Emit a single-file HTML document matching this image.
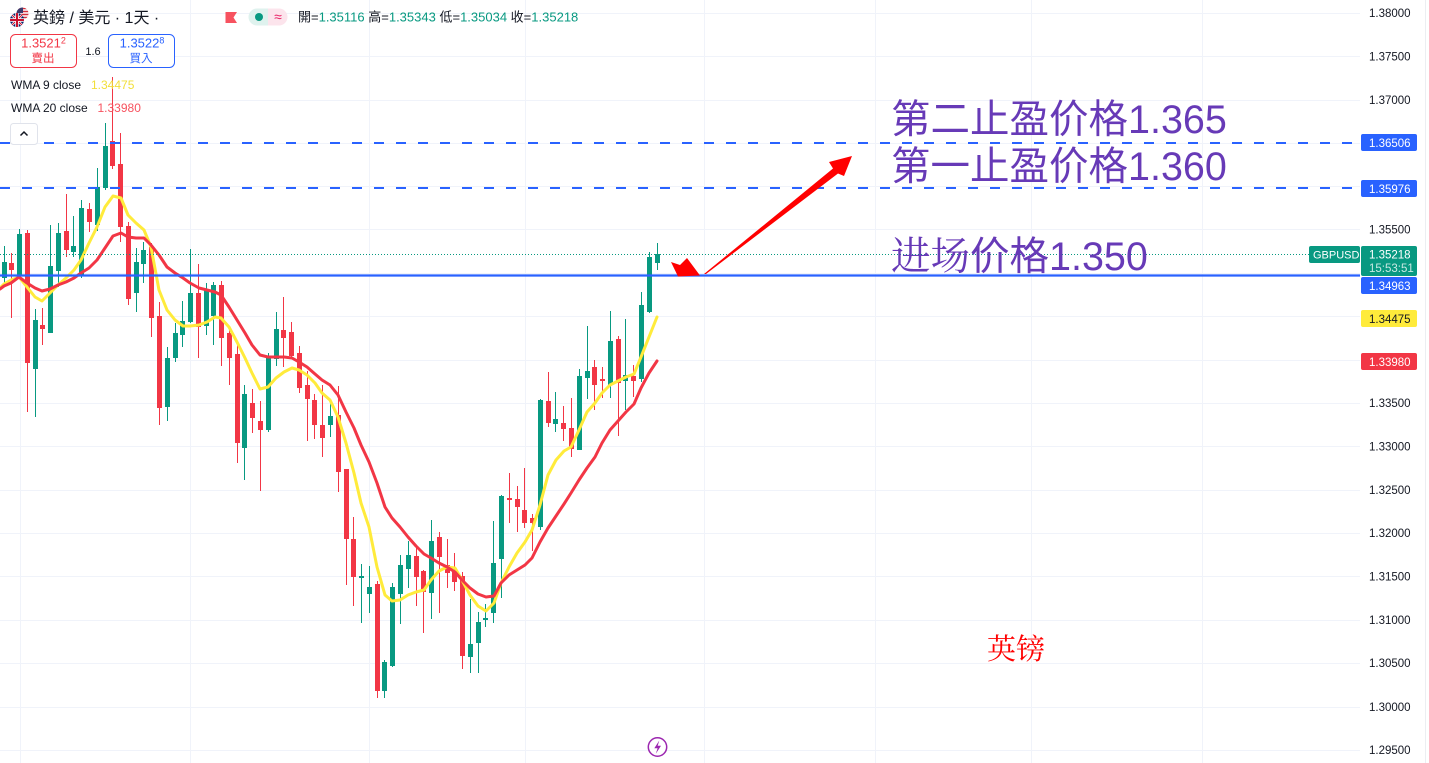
<!DOCTYPE html>
<html><head><meta charset="utf-8"><style>
html,body{margin:0;padding:0;background:#fff;width:1429px;height:763px;overflow:hidden}
svg{display:block;font-family:"Liberation Sans","Noto Sans CJK SC",sans-serif}
</style></head><body>
<svg width="1429" height="763" viewBox="0 0 1429 763" xmlns="http://www.w3.org/2000/svg">
<rect width="1429" height="763" fill="#fff"/>
<!-- grid -->
<g stroke="#f0f3fa" stroke-width="1">
<path d="M0 13.5H1360M0 56.5H1360M0 100.5H1360M0 143.5H1360M0 186.5H1360M0 229.5H1360M0 273.5H1360M0 316.5H1360M0 360.5H1360M0 403.5H1360M0 446.5H1360M0 490.5H1360M0 533.5H1360M0 576.5H1360M0 620.5H1360M0 663.5H1360M0 707.5H1360M0 750.5H1360"/>
<path d="M20.5 0V763M190.5 0V763M369.5 0V763M525.5 0V763M704.5 0V763M875.5 0V763M1031.5 0V763M1202.5 0V763"/>
</g>
<line x1="1425.5" y1="0" x2="1425.5" y2="763" stroke="#eceef2" stroke-width="1"/>

<!-- candles -->
<path fill="none" stroke="#089981" stroke-width="1" d="M4.5 246V285M19.5 229V278M35.5 309V417M50.5 225V333M58.5 223V287M73.5 216V257M81.5 200V278M97.5 168V231M105.5 123V190M136.5 248V312M143.5 242V283M167.5 347V421M175.5 323V362M182.5 301V347M190.5 249V323M206.5 283V335M213.5 282V345M244.5 385V480M268.5 353V432M276.5 312V366M330.5 400V437M361.5 564V623M369.5 566V613M384.5 660V698M392.5 583V667M400.5 555V624M408.5 541V588M431.5 520V619M470.5 599V673M478.5 612V673M485.5 604V627M493.5 521V623M501.5 495V598M540.5 399V530M555.5 392V432M579.5 369V450M587.5 326V399M610.5 311V398M625.5 319V410M641.5 292V382M649.5 252V313M657.5 243V270"/>
<path fill="#089981" d="M2 262h5V278h-5zM17 234h5V276h-5zM33 320h5V369h-5zM48 266h5V333h-5zM56 233h5V271h-5zM71 246h5V252h-5zM79 208h5V276h-5zM95 187h5V225h-5zM103 146h5V188h-5zM134 262h5V293h-5zM141 250h5V264h-5zM165 358h5V407h-5zM173 333h5V358h-5zM180 321h5V335h-5zM188 293h5V322h-5zM204 289h5V326h-5zM211 285h5V316h-5zM242 394h5V448h-5zM266 358h5V430h-5zM274 329h5V359h-5zM328 416h5V425h-5zM359 576h5V578h-5zM367 587h5V594h-5zM382 662h5V691h-5zM390 587h5V666h-5zM398 565h5V594h-5zM406 555h5V569h-5zM429 541h5V593h-5zM468 644h5V657h-5zM476 622h5V643h-5zM483 618h5V620h-5zM491 563h5V613h-5zM499 496h5V559h-5zM538 400h5V527h-5zM553 419h5V424h-5zM577 376h5V450h-5zM585 371h5V378h-5zM608 341h5V385h-5zM623 375h5V381h-5zM639 305h5V379h-5zM647 257h5V312h-5zM655 254h5V263h-5z"/>
<path fill="none" stroke="#f23645" stroke-width="1" d="M11.5 253V318M27.5 230V412M42.5 308V345M66.5 194V257M89.5 203V232M112.5 77V169M120.5 133V242M128.5 222V305M151.5 243V337M159.5 302V425M198.5 264V358M221.5 281V366M229.5 326V385M237.5 343V463M252.5 389V433M260.5 401V491M283.5 297V367M291.5 322V358M299.5 346V393M307.5 371V441M314.5 394V439M322.5 385V457M338.5 386V492M346.5 469V585M353.5 517V606M377.5 581V698M416.5 547V606M423.5 570V633M439.5 532V613M447.5 539V588M454.5 553V591M462.5 572V669M509.5 473V523M517.5 486V532M524.5 468V528M532.5 514V551M548.5 372V427M563.5 406V441M571.5 398V457M594.5 360V410M602.5 367V398M618.5 336V436M633.5 365V397"/>
<path fill="#f23645" d="M9 263h5V270h-5zM25 233h5V363h-5zM40 325h5V329h-5zM64 231h5V250h-5zM87 209h5V222h-5zM110 141h5V166h-5zM118 164h5V227h-5zM126 226h5V299h-5zM149 247h5V318h-5zM157 316h5V408h-5zM196 293h5V327h-5zM219 285h5V338h-5zM227 333h5V358h-5zM235 354h5V443h-5zM250 403h5V418h-5zM258 421h5V430h-5zM281 330h5V338h-5zM289 332h5V356h-5zM297 353h5V388h-5zM305 385h5V399h-5zM312 400h5V425h-5zM320 425h5V438h-5zM336 415h5V472h-5zM344 469h5V539h-5zM351 539h5V577h-5zM375 584h5V691h-5zM414 556h5V577h-5zM421 571h5V592h-5zM437 537h5V557h-5zM445 565h5V573h-5zM452 570h5V582h-5zM460 576h5V656h-5zM507 498h5V500h-5zM515 499h5V507h-5zM522 510h5V523h-5zM530 518h5V523h-5zM546 401h5V423h-5zM561 423h5V429h-5zM569 428h5V449h-5zM592 367h5V385h-5zM600 379h5V381h-5zM616 339h5V383h-5zM631 376h5V381h-5z"/>

<!-- WMA lines -->
<polyline fill="none" stroke="#ffeb3b" stroke-width="3" stroke-linejoin="round" stroke-linecap="round" points="0,288 4,284 11,280 19,277 27,287 35,297 42,301 50,293 58,285 66,278 74,270 81,260 89,243 97,227 105,207 113,196 121,198 128,215 136,223 144,230 151,247 159,290 167,310 175,320 183,326 190,326 199,325 207,322 215,317 221,318 229,327 237,342 245,358 252,373 260,389 268,387 276,378 284,372 292,368 299,370 307,375 315,383 322,393 330,400 338,417 346,443 354,473 361,503 369,527 377,567 385,595 392,601 400,600 408,595 416,592 424,590 431,580 439,571 447,567 455,568 462,580 470,595 478,606 486,611 494,603 501,583 509,567 517,553 525,542 532,530 540,505 548,475 556,460 564,451 571,447 579,430 587,412 595,403 602,393 610,385 618,381 626,377 634,374 641,357 649,337 657,317"/>
<polyline fill="none" stroke="#f23645" stroke-width="3" stroke-linejoin="round" stroke-linecap="round" points="0,289 4,286 11,283 19,277 27,283 35,288 42,291 50,289 58,285 66,282 74,278 81,273 89,268 97,260 105,248 113,236 121,233 128,237 136,238 144,238 151,245 159,255 167,267 175,273 183,278 190,283 199,288 207,290 215,292 221,295 229,307 237,320 245,333 252,345 260,355 268,357 276,357 284,357 292,358 299,362 307,367 315,374 322,380 330,385 338,395 346,412 354,428 361,445 369,462 377,483 385,507 392,518 400,527 408,537 416,546 424,554 431,558 439,563 447,567 455,572 462,580 470,588 478,594 486,597 494,596 501,583 509,575 517,570 525,565 532,558 540,542 548,528 556,516 564,504 571,493 579,480 587,468 595,457 602,443 610,430 618,421 626,412 634,404 641,388 649,373 657,361"/>

<!-- drawings -->
<line x1="0" y1="254.5" x2="1309" y2="254.5" stroke="#089981" stroke-width="1" stroke-dasharray="1 2"/>
<line x1="0" y1="143" x2="1360" y2="143" stroke="#2962ff" stroke-width="2" stroke-dasharray="10 12"/>
<line x1="0" y1="188" x2="1360" y2="188" stroke="#2962ff" stroke-width="2" stroke-dasharray="10 12"/>
<line x1="0" y1="275.5" x2="1360" y2="275.5" stroke="#2962ff" stroke-width="2.3"/>

<!-- arrows -->
<polygon fill="#ff0000" points="704,274 833,168.5 829,162 852,156 844,176 838,173.5 706,274"/>
<polygon fill="#ff0000" points="671,262 680,265 687,258 700,275.5 678,276.5"/>

<!-- annotations -->
<g fill="#673ab7" font-size="39.5" font-family="'Liberation Sans','Noto Sans CJK SC',sans-serif">
<text x="891" y="133">第二止盈价格1.365</text>
<text x="891" y="180">第一止盈价格1.360</text>
<text x="891" y="270"><tspan font-family="'Noto Serif CJK SC',serif">进场</tspan>价格1.350</text>
</g>
<text x="987" y="659" font-size="29" fill="#ff0000" font-family="'Noto Serif CJK SC','Noto Sans CJK SC',serif">英镑</text>

<!-- lightning icon -->
<circle cx="657.5" cy="747" r="9.2" fill="#fff" stroke="#9c27b0" stroke-width="1.5"/>
<path d="M659.3 740.5 L654.3 748.2 L657.6 748.2 L655.8 753.8 L661 745.8 L657.7 745.8 Z" fill="#9c27b0"/>

<!-- price axis labels -->
<g font-size="11.5" fill="#131722">
<text x="1369" y="17">1.38000</text>
<text x="1369" y="60.5">1.37500</text>
<text x="1369" y="104">1.37000</text>
<text x="1369" y="233.5">1.35500</text>
<text x="1369" y="407">1.33500</text>
<text x="1369" y="450.5">1.33000</text>
<text x="1369" y="494">1.32500</text>
<text x="1369" y="537">1.32000</text>
<text x="1369" y="580.5">1.31500</text>
<text x="1369" y="624">1.31000</text>
<text x="1369" y="667">1.30500</text>
<text x="1369" y="711">1.30000</text>
<text x="1369" y="754">1.29500</text>
</g>
<!-- axis tags -->
<rect x="1361" y="134" width="56" height="17" rx="2" fill="#2962ff"/>
<text x="1369" y="146.8" font-size="11.5" fill="#fff">1.36506</text>
<rect x="1361" y="180" width="56" height="17" rx="2" fill="#2962ff"/>
<text x="1369" y="192.8" font-size="11.5" fill="#fff">1.35976</text>
<rect x="1309" y="246" width="51" height="17" rx="2" fill="#089981"/>
<text x="1313" y="258.5" font-size="11" fill="#fff">GBPUSD</text>
<rect x="1361" y="246" width="56" height="30" rx="2" fill="#089981"/>
<text x="1369" y="258.5" font-size="11.5" fill="#fff">1.35218</text>
<text x="1369" y="272" font-size="11.5" fill="#fff" fill-opacity="0.78">15:53:51</text>
<rect x="1361" y="277" width="56" height="17" rx="2" fill="#2962ff"/>
<text x="1369" y="289.8" font-size="11.5" fill="#fff">1.34963</text>
<rect x="1361" y="310" width="56" height="17" rx="2" fill="#ffeb3b"/>
<text x="1369" y="322.8" font-size="11.5" fill="#131722">1.34475</text>
<rect x="1361" y="353" width="56" height="17" rx="2" fill="#f23645"/>
<text x="1369" y="365.8" font-size="11.5" fill="#fff">1.33980</text>

<!-- header -->
<defs><clipPath id="ukc"><circle cx="17" cy="20" r="7"/></clipPath><clipPath id="usc"><circle cx="22.5" cy="13.5" r="6"/></clipPath></defs>
<g clip-path="url(#usc)">
<rect x="15" y="6" width="15" height="15" fill="#fff"/>
<path d="M15 8.5H30M15 11.5H30M15 14.5H30M15 17.5H30" stroke="#d22f3d" stroke-width="1.4"/>
<rect x="15" y="6" width="8" height="7" fill="#3c3b6e"/>
</g>
<g clip-path="url(#ukc)">
<rect x="9" y="12" width="16" height="16" fill="#012169"/>
<path d="M9 12L25 28M25 12L9 28" stroke="#fff" stroke-width="2.5"/>
<path d="M9 12L25 28M25 12L9 28" stroke="#c8102e" stroke-width="1"/>
<path d="M17 12V28M9 20H25" stroke="#fff" stroke-width="3.5"/>
<path d="M17 12V28M9 20H25" stroke="#c8102e" stroke-width="2"/>
</g>
<text x="33" y="23" font-size="16" fill="#131722" font-family="'Liberation Sans','Noto Sans CJK TC',sans-serif">英鎊 / 美元 · 1天 ·</text>
<polygon points="225.5,12 237,12 233.5,17.5 237,23 225.5,23" fill="#f7525f"/>
<path d="M257 8.5 H268 V25.5 H257 A8.5 8.5 0 0 1 257 8.5Z" fill="#dff2ee"/>
<path d="M268 8.5 H279 A8.5 8.5 0 0 1 279 25.5 H268Z" fill="#fce4ec"/>
<circle cx="259" cy="17" r="4" fill="#089981"/>
<text x="278" y="21.5" font-size="14" fill="#e91e63" text-anchor="middle">≈</text>
<text x="298" y="21.5" font-size="13" font-family="'Liberation Sans','Noto Sans CJK TC',sans-serif"><tspan fill="#131722">開=</tspan><tspan fill="#089981">1.35116</tspan><tspan fill="#131722"> 高=</tspan><tspan fill="#089981">1.35343</tspan><tspan fill="#131722"> 低=</tspan><tspan fill="#089981">1.35034</tspan><tspan fill="#131722"> 收=</tspan><tspan fill="#089981">1.35218</tspan></text>

<rect x="10.5" y="34.5" width="66" height="33" rx="5" fill="#fff" stroke="#f23645" stroke-width="1"/>
<text x="43.5" y="47.5" font-size="13" fill="#f23645" text-anchor="middle">1.3521<tspan font-size="9" dy="-4">2</tspan></text>
<text x="43" y="62" font-size="11.5" fill="#f23645" text-anchor="middle" font-family="'Liberation Sans','Noto Sans CJK TC',sans-serif">賣出</text>
<text x="93" y="55" font-size="11" fill="#131722" text-anchor="middle">1.6</text>
<rect x="108.5" y="34.5" width="66" height="33" rx="5" fill="#fff" stroke="#2962ff" stroke-width="1"/>
<text x="142" y="47.5" font-size="13" fill="#2962ff" text-anchor="middle">1.3522<tspan font-size="9" dy="-4">8</tspan></text>
<text x="141" y="62" font-size="11.5" fill="#2962ff" text-anchor="middle" font-family="'Liberation Sans','Noto Sans CJK TC',sans-serif">買入</text>

<text x="11" y="89" font-size="12" fill="#131722">WMA 9 close</text>
<text x="91" y="89" font-size="12" fill="#f2df3a">1.34475</text>
<text x="11" y="112" font-size="12" fill="#131722">WMA 20 close</text>
<text x="97.5" y="112" font-size="12" fill="#f7525f">1.33980</text>

<rect x="10.5" y="123.5" width="27" height="21" rx="3" fill="#fff" stroke="#e0e3eb" stroke-width="1"/>
<polyline points="20.5,135.5 24,132 27.5,135.5" fill="none" stroke="#131722" stroke-width="1.5"/>
</svg>
</body></html>
